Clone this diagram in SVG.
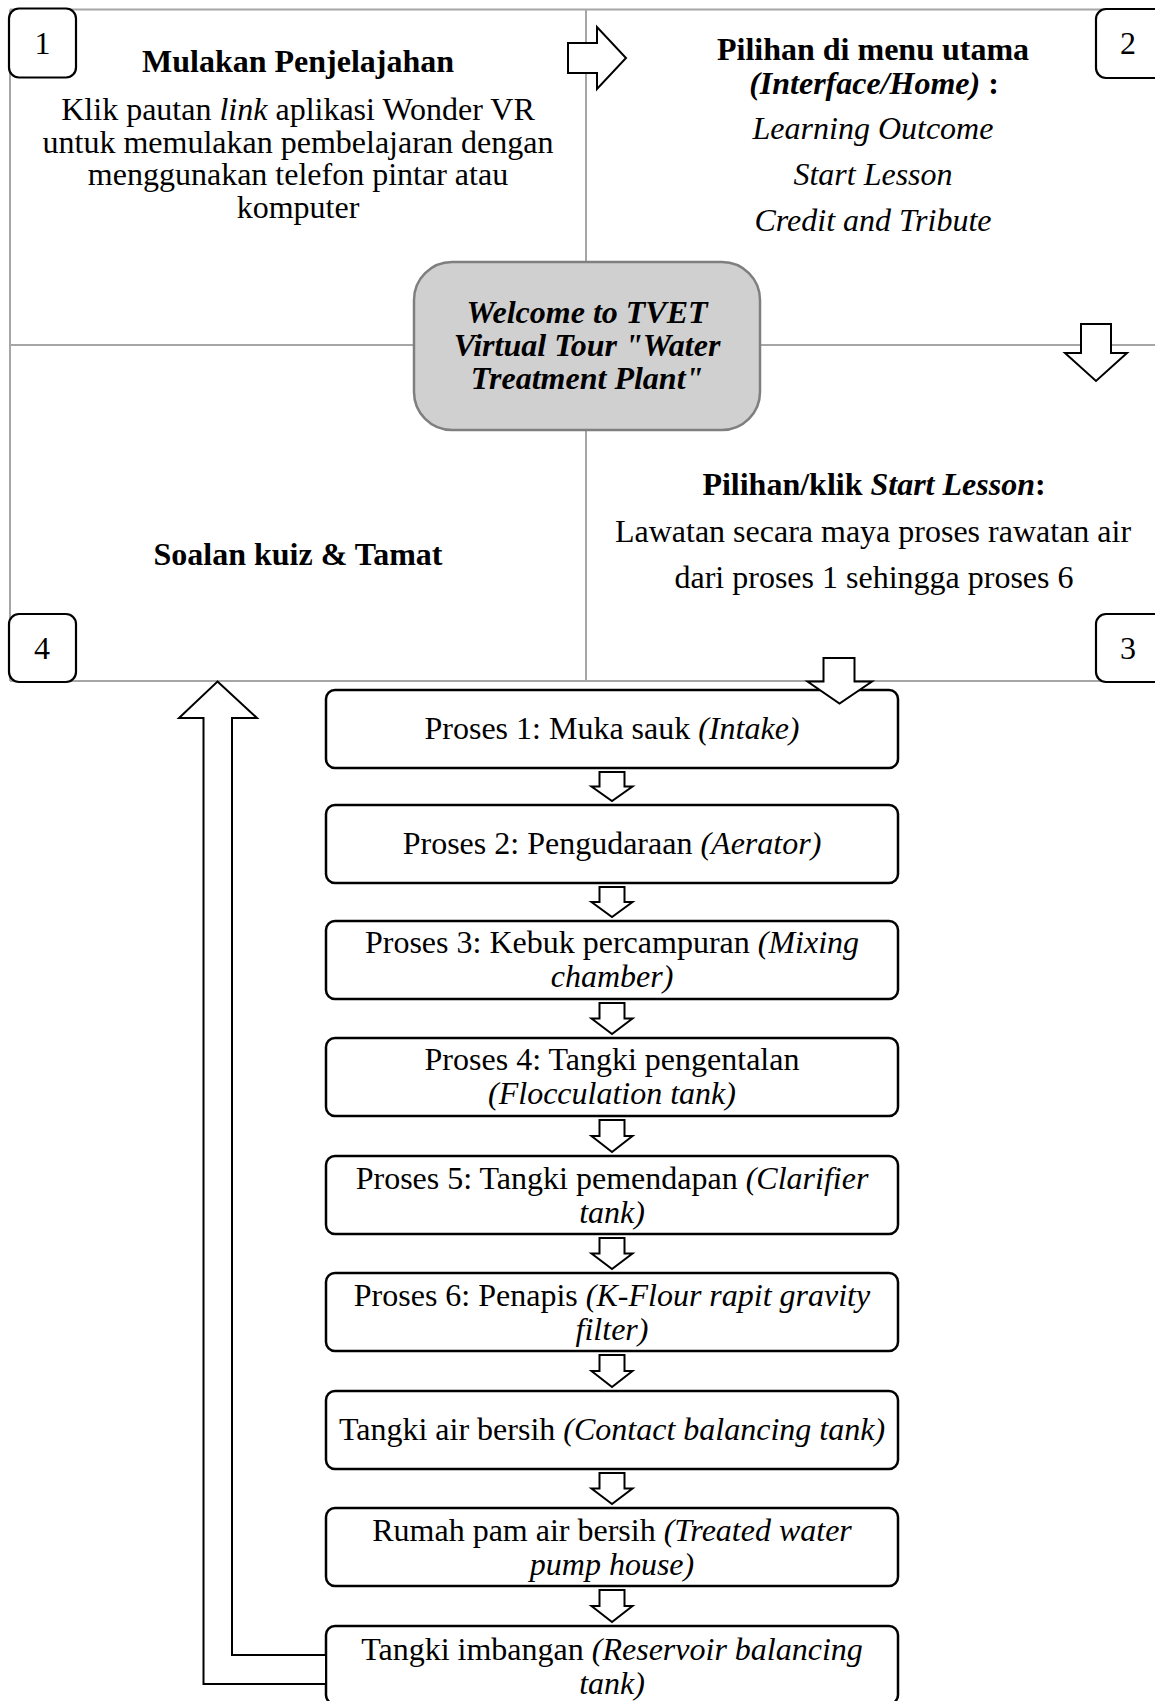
<svg xmlns="http://www.w3.org/2000/svg" width="1155" height="1701" viewBox="0 0 1155 1701">
<style>
.t{font-family:"Liberation Serif","Times New Roman",serif;font-size:32px;fill:#000;text-anchor:middle}
.b{font-weight:bold}
.i{font-style:italic}
.frame{stroke:#a6a6a6;stroke-width:2;fill:none}
.num{fill:#fff;stroke:#000;stroke-width:2.2}
.proc{fill:#fff;stroke:#000;stroke-width:2.5}
.arrow{fill:#fff;stroke:#000;stroke-width:2;stroke-linejoin:miter}
</style>
<rect width="1155" height="1701" fill="#fff"/>
<g id="frame">
<path class="frame" d="M10 9.5 H1160 M10 9.5 V681 M10 681 H1160 M586 9.5 V681 M10 345 H1160"/>
</g>
<g id="center">
<rect x="414" y="262" width="346" height="168" rx="38" fill="#d0d0d0" stroke="#7f7f7f" stroke-width="2.5"/>
<text class="t b i" x="587" y="323">Welcome to TVET</text>
<text class="t b i" x="587" y="356">Virtual Tour "Water</text>
<text class="t b i" x="587" y="389">Treatment Plant"</text>
</g>
<g id="q1">
<text class="t b" x="298" y="72">Mulakan Penjelajahan</text>
<text class="t" x="298" y="120">Klik pautan <tspan class="i">link</tspan> aplikasi Wonder VR</text>
<text class="t" x="298" y="152.5">untuk memulakan pembelajaran dengan</text>
<text class="t" x="298" y="185">menggunakan telefon pintar atau</text>
<text class="t" x="298" y="217.5">komputer</text>
</g>
<g id="q2">
<text class="t b" x="873" y="60">Pilihan di menu utama</text>
<text class="t b" x="874" y="94"><tspan class="i">(Interface/Home)</tspan> :</text>
<text class="t i" x="873" y="139">Learning Outcome</text>
<text class="t i" x="873" y="185">Start Lesson</text>
<text class="t i" x="873" y="231">Credit and Tribute</text>
</g>
<g id="q3">
<text class="t b" x="874" y="495">Pilihan/klik <tspan class="i">Start Lesson</tspan>:</text>
<text class="t" x="873" y="542">Lawatan secara maya proses rawatan air</text>
<text class="t" x="874" y="588">dari proses 1 sehingga proses 6</text>
</g>
<g id="q4">
<text class="t b" x="298" y="565">Soalan kuiz &amp; Tamat</text>
</g>
<g id="n1"><rect class="num" x="9" y="8.5" width="67" height="69" rx="10"/><text class="t" x="42.5" y="54">1</text></g>
<g id="n2"><rect class="num" x="1096" y="9" width="70" height="69" rx="10"/><text class="t" x="1128" y="54">2</text></g>
<g id="n3"><rect class="num" x="1096" y="614" width="70" height="68" rx="10"/><text class="t" x="1128" y="659">3</text></g>
<g id="n4"><rect class="num" x="9" y="614" width="67" height="68" rx="10"/><text class="t" x="42" y="659">4</text></g>
<g id="p1"><rect class="proc" x="326" y="690" width="572" height="78" rx="9"/><text class="t" x="612" y="739">Proses 1: Muka sauk <tspan class="i">(Intake)</tspan></text></g>
<g id="p2"><rect class="proc" x="326" y="805" width="572" height="78" rx="9"/><text class="t" x="612" y="854">Proses 2: Pengudaraan <tspan class="i">(Aerator)</tspan></text></g>
<g id="p3"><rect class="proc" x="326" y="921" width="572" height="78" rx="9"/><text class="t" x="612" y="953">Proses 3: Kebuk percampuran <tspan class="i">(Mixing</tspan></text><text class="t i" x="612" y="987">chamber)</text></g>
<g id="p4"><rect class="proc" x="326" y="1038" width="572" height="78" rx="9"/><text class="t" x="612" y="1070">Proses 4: Tangki pengentalan</text><text class="t i" x="612" y="1104">(Flocculation tank)</text></g>
<g id="p5"><rect class="proc" x="326" y="1156" width="572" height="78" rx="9"/><text class="t" x="612" y="1188.5">Proses 5: Tangki pemendapan <tspan class="i">(Clarifier</tspan></text><text class="t i" x="612" y="1222.5">tank)</text></g>
<g id="p6"><rect class="proc" x="326" y="1273" width="572" height="78" rx="9"/><text class="t" x="612" y="1305.5">Proses 6: Penapis <tspan class="i">(K-Flour rapit gravity</tspan></text><text class="t i" x="612" y="1339.5">filter)</text></g>
<g id="p7"><rect class="proc" x="326" y="1391" width="572" height="78" rx="9"/><text class="t" x="612" y="1440">Tangki air bersih <tspan class="i">(Contact balancing tank)</tspan></text></g>
<g id="p8"><rect class="proc" x="326" y="1508" width="572" height="78" rx="9"/><text class="t" x="612" y="1540.5">Rumah pam air bersih <tspan class="i">(Treated water</tspan></text><text class="t i" x="612" y="1574.5">pump house)</text></g>
<g id="p9"><rect class="proc" x="326" y="1626" width="572" height="78" rx="9"/><text class="t" x="612" y="1659.5">Tangki imbangan <tspan class="i">(Reservoir balancing</tspan></text><text class="t i" x="612" y="1693.5">tank)</text></g>
<g id="connectors">
<path class="arrow" d="M568 43 H597 V27 L626 58 L597 89 V73 H568 Z"/>
<path class="arrow" d="M1081 324 H1111 V353 H1127 L1096 381 L1065 353 H1081 Z"/>
<path class="arrow" d="M823.5 658 H854.5 V681.5 H872 L839.5 703.5 L807.5 681.5 H823.5 Z"/>
<path class="arrow" d="M217.5 681.5 L257 718 H232 V1655 H326 V1684 H203.5 V718 H179 Z"/>
<path class="arrow" d="M599.5 772 H624.5 V786.5 H632.5 L612 801 L591.5 786.5 H599.5 Z"/>
<path class="arrow" d="M599.5 887 H624.5 V902 H632.5 L612 917 L591.5 902 H599.5 Z"/>
<path class="arrow" d="M599.5 1003 H624.5 V1018.5 H632.5 L612 1034 L591.5 1018.5 H599.5 Z"/>
<path class="arrow" d="M599.5 1120 H624.5 V1136 H632.5 L612 1152 L591.5 1136 H599.5 Z"/>
<path class="arrow" d="M599.5 1238 H624.5 V1253.5 H632.5 L612 1269 L591.5 1253.5 H599.5 Z"/>
<path class="arrow" d="M599.5 1355 H624.5 V1371 H632.5 L612 1387 L591.5 1371 H599.5 Z"/>
<path class="arrow" d="M599.5 1473 H624.5 V1488.5 H632.5 L612 1504 L591.5 1488.5 H599.5 Z"/>
<path class="arrow" d="M599.5 1590 H624.5 V1606 H632.5 L612 1622 L591.5 1606 H599.5 Z"/>
</g>
</svg>
